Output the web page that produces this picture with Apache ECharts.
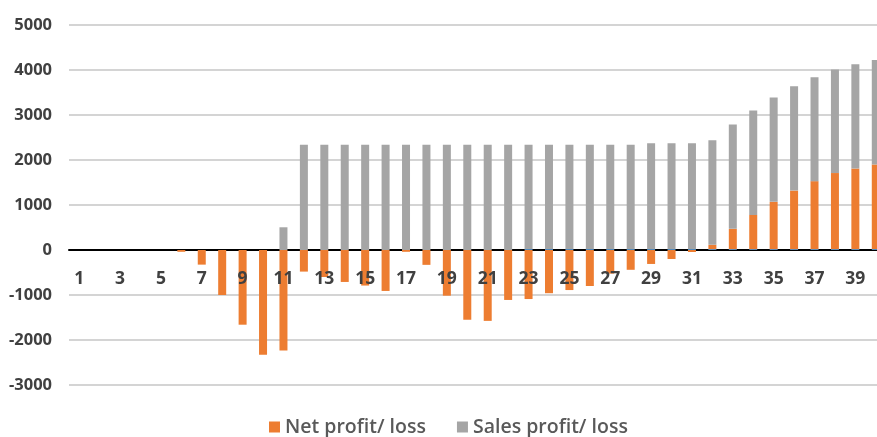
<!DOCTYPE html>
<html>
<head>
<meta charset="utf-8">
<script src="https://cdn.jsdelivr.net/npm/echarts@6/dist/echarts.min.js"></script>
<style>
  html, body { margin: 0; padding: 0; background: #fff; }
  #chart { width: 877px; height: 437px; }
</style>
</head>
<body>
<div id="chart"></div>
<script>
// categories 1..40
const periods = ['1','2','3','4','5','6','7','8','9','10','11','12','13','14','15','16','17','18','19','20',
  '21','22','23','24','25','26','27','28','29','30','31','32','33','34','35','36','37','38','39','40'];

// tiny blue series at the base (not in legend)
const baseLine = [0,0,0,0,0,0,0,0,0,0,0,0,0,0,0,0,0,0,0,0,
  0,0,20,20,20,20,20,20,20,20,20,20,20,20,20,20,20,20,20,20];

const netProfit = [0,0,0,0,0,-40,-325,-1000,-1660,-2325,-2235,-480,-600,-710,-790,-910,-40,-330,-1015,-1550,
  -1575,-1110,-1090,-960,-890,-800,-525,-440,-310,-200,-45,95,450,760,1050,1300,1510,1690,1790,1880];

const salesProfit = [0,0,0,0,0,0,0,0,0,0,505,2340,2340,2340,2340,2340,2340,2340,2340,2340,
  2340,2340,2320,2320,2320,2320,2320,2320,2350,2350,2350,2325,2320,2320,2320,2320,2310,2300,2320,2320];

const yTicks = { min: -3000, max: 5000, step: 1000 };

const chart = echarts.init(document.getElementById('chart'));
const txt = '#404040';
chart.setOption({
  animation: false,
  textStyle: { fontFamily: 'Open Sans' },
  grid: { left: 69, width: 817, top: 25, height: 360, outerBoundsMode: 'none' },
  legend: {
    data: ['Net profit/ loss', 'Sales profit/ loss'],
    left: 264, top: 412,
    itemWidth: 11, itemHeight: 11, itemGap: 31,
    icon: 'rect',
    textStyle: { fontSize: 19.5, fontWeight: 600, color: '#595959', fontFamily: 'Open Sans' }
  },
  xAxis: [
    {
      type: 'category',
      data: periods,
      axisLine: { onZero: true, lineStyle: { color: '#000', width: 2 } },
      axisTick: { show: false },
      axisLabel: { show: false }
    },
    {
      // labels only, sitting just under the zero line, drawn over the bars
      type: 'category',
      data: periods,
      position: 'bottom',
      offset: -135,
      z: 10,
      axisLine: { show: false, onZero: false },
      axisTick: { show: false },
      axisLabel: { interval: 1, margin: 20, fontSize: 17.5, fontWeight: 'bold', color: txt }
    }
  ],
  yAxis: {
    type: 'value',
    min: yTicks.min, max: yTicks.max, interval: yTicks.step,
    axisLine: { show: false },
    axisTick: { show: false },
    axisLabel: { margin: 17, fontSize: 16.5, fontWeight: 'bold', color: txt, formatter: v => String(v) },
    splitLine: { lineStyle: { color: '#d4d4d4', width: 2 } }
  },
  series: [
    {
      name: 'Series3', type: 'bar', stack: 'all', barWidth: 8,
      data: baseLine, itemStyle: { color: '#5B9BD5' }
    },
    {
      name: 'Net profit/ loss', type: 'bar', stack: 'all', barWidth: 8,
      data: netProfit, itemStyle: { color: '#ED7D31' }
    },
    {
      name: 'Sales profit/ loss', type: 'bar', stack: 'all', barWidth: 8,
      data: salesProfit, itemStyle: { color: '#A5A5A5' }
    }
  ]
});
</script>
</body>
</html>
